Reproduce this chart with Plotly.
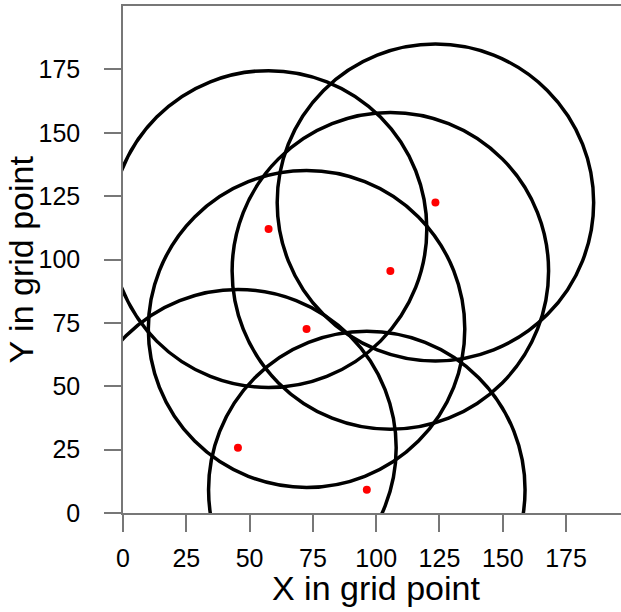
import plotly.graph_objects as go

# Station centres (grid points) and radius of influence
cx = [57.5, 123.4, 105.6, 72.5, 45.4, 96.3]
cy = [112.0, 122.5, 95.5, 72.6, 25.7, 9.2]
radius = [62.5, 62.5, 62.5, 62.5, 62.5, 62.5]
tick_vals = [0, 25, 50, 75, 100, 125, 150, 175]

fig = go.Figure()
fig.add_trace(go.Scatter(x=cx, y=cy, mode="markers",
                         marker=dict(color="red", size=8), showlegend=False))

for x, y, r in zip(cx, cy, radius):
    fig.add_shape(type="circle", xref="x", yref="y",
                  x0=x - r, x1=x + r, y0=y - r, y1=y + r,
                  line=dict(color="black", width=3.5), layer="above")

axis_common = dict(
    tickvals=tick_vals, ticks="outside", ticklen=17, tickwidth=1.5,
    tickcolor="#777", showline=True, linecolor="#777", linewidth=1.5,
    showgrid=False, zeroline=False,
    tickfont=dict(family="Liberation Sans", size=25, color="black"),
)

fig.update_layout(
    width=621, height=612,
    margin=dict(l=123, r=0, t=6, b=99),
    plot_bgcolor="white", paper_bgcolor="white",
    xaxis=dict(range=[0, 196.7], mirror=True, ticklabelstandoff=5, **axis_common),
    yaxis=dict(range=[0, 200], ticklabelstandoff=19, **axis_common),
    annotations=[
        dict(text="X in grid point", xref="paper", yref="paper", x=0.508, y=-0.147,
             xanchor="center", yanchor="middle", showarrow=False,
             font=dict(family="Liberation Sans", size=34, color="black")),
        dict(text="Y in grid point", xref="paper", yref="paper", x=-0.205, y=0.5,
             xanchor="center", yanchor="middle", showarrow=False, textangle=-90,
             font=dict(family="Liberation Sans", size=34, color="black")),
    ],
)

fig.write_html("out.html", config={"displayModeBar": False},
               post_script="document.body.style.margin='0';document.body.style.overflow='hidden';")
